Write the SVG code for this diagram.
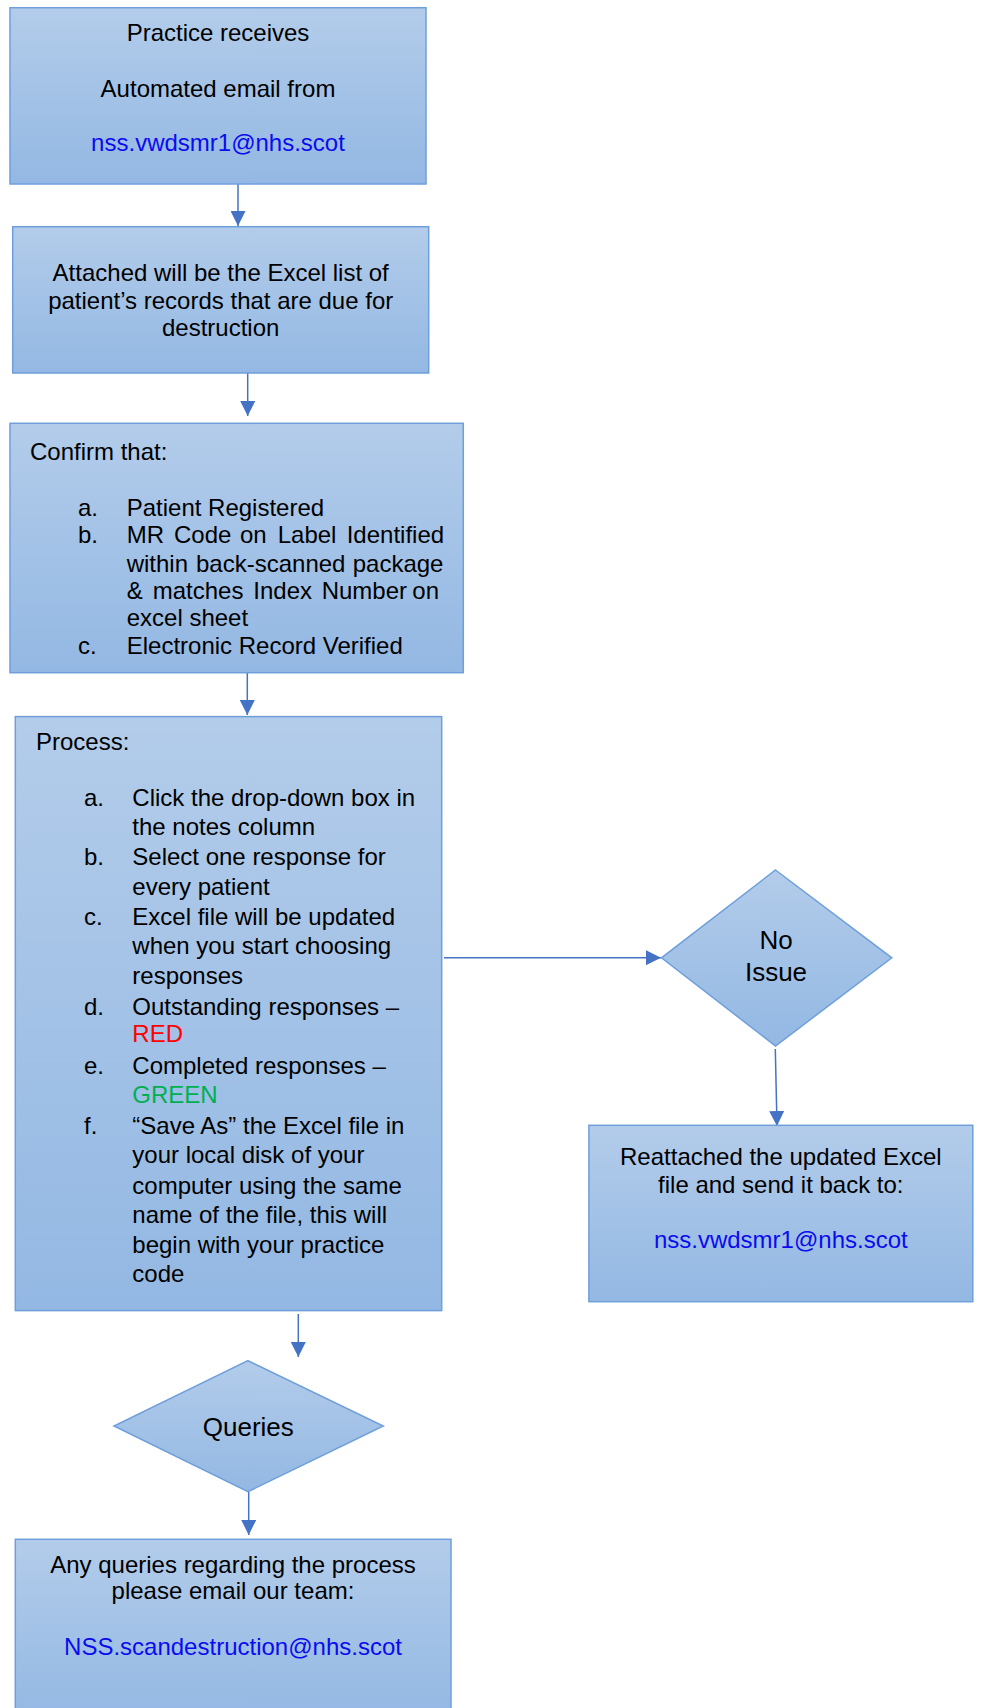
<svg xmlns="http://www.w3.org/2000/svg" width="981" height="1708" viewBox="0 0 981 1708">
<style>
.box{fill:url(#g);stroke:#6E9FDB;stroke-width:1.5}
.t{font-family:"Liberation Sans",Arial,sans-serif;font-size:24px;fill:#000}
.c{text-anchor:middle}
.em{fill:#0B0BF0}
.red{fill:#FF0000}
.grn{fill:#00B050}
.big{font-size:26px}
.arr{stroke:#4472C4;stroke-width:1.5;fill:none;marker-end:url(#ah)}
</style>
<defs>
<linearGradient id="g" x1="0" y1="0" x2="0" y2="1">
<stop offset="0" stop-color="#B3CCEA"/>
<stop offset="1" stop-color="#93B8E3"/>
</linearGradient>
<marker id="ah" markerUnits="userSpaceOnUse" markerWidth="15" markerHeight="15" refX="15" refY="7.5" orient="auto">
<path d="M0,0 L15,7.5 L0,15 z" fill="#4472C4"/>
</marker>
</defs>
<rect width="981" height="1708" fill="#fff"/>
<g id="connectors">
<line class="arr" x1="238" y1="184" x2="238" y2="226"/>
<line class="arr" x1="247.7" y1="373" x2="247.7" y2="416"/>
<line class="arr" x1="247.3" y1="673" x2="247.3" y2="715"/>
<line class="arr" x1="444" y1="957.7" x2="661" y2="957.7"/>
<line class="arr" x1="775.3" y1="1049" x2="777" y2="1126"/>
<line class="arr" x1="298.3" y1="1314" x2="298.3" y2="1357"/>
<line class="arr" x1="248.7" y1="1492" x2="248.7" y2="1535"/>
</g>
<g id="n1">
<rect class="box" x="10" y="7.7" width="416" height="176.3"/>
<text class="t c" x="218" y="41">Practice receives</text>
<text class="t c" x="218" y="97">Automated email from</text>
<text class="t c em" x="218" y="151">nss.vwdsmr1@nhs.scot</text>
</g>
<g id="n2">
<rect class="box" x="12.7" y="226.7" width="416" height="146.3"/>
<text class="t c" x="220.7" y="281">Attached will be the Excel list of</text>
<text class="t c" x="220.7" y="308.5">patient’s records that are due for</text>
<text class="t c" x="220.7" y="335.5">destruction</text>
</g>
<g id="n3">
<rect class="box" x="10" y="423.3" width="453.3" height="249.4"/>
<text class="t" x="30" y="460">Confirm that:</text>
<text class="t" x="78" y="516">a.</text>
<text class="t" x="126.7" y="516">Patient Registered</text>
<text class="t" x="78" y="543.3">b.</text>
<text class="t" y="543.3"><tspan x="126.7">MR</tspan><tspan x="174">Code</tspan><tspan x="240">on</tspan><tspan x="277.7">Label</tspan><tspan x="346.7">Identified</tspan></text>
<text class="t" y="571.7"><tspan x="126.7">within</tspan><tspan x="196">back-scanned</tspan><tspan x="352.7">package</tspan></text>
<text class="t" y="599"><tspan x="126.7">&amp;</tspan><tspan x="152.7">matches</tspan><tspan x="253.3">Index</tspan><tspan x="321.7">Number</tspan><tspan x="412.3">on</tspan></text>
<text class="t" x="126.7" y="626">excel sheet</text>
<text class="t" x="78" y="654">c.</text>
<text class="t" x="126.7" y="654">Electronic Record Verified</text>
</g>
<g id="n4">
<rect class="box" x="15.3" y="716.6" width="426.4" height="594"/>
<text class="t" x="36" y="750.2">Process:</text>
<text class="t" x="84" y="806">a.</text>
<text class="t" x="132.3" y="806">Click the drop-down box in</text>
<text class="t" x="132.3" y="835.2">the notes column</text>
<text class="t" x="84" y="865.3">b.</text>
<text class="t" x="132.3" y="865.3">Select one response for</text>
<text class="t" x="132.3" y="894.9">every patient</text>
<text class="t" x="84" y="924.6">c.</text>
<text class="t" x="132.3" y="924.6">Excel file will be updated</text>
<text class="t" x="132.3" y="954.2">when you start choosing</text>
<text class="t" x="132.3" y="983.9">responses</text>
<text class="t" x="84" y="1015.1">d.</text>
<text class="t" x="132.3" y="1015.1">Outstanding responses –</text>
<text class="t red" x="132.3" y="1042.4">RED</text>
<text class="t" x="84" y="1073.7">e.</text>
<text class="t" x="132.3" y="1073.7">Completed responses –</text>
<text class="t grn" x="132.3" y="1102.5">GREEN</text>
<text class="t" x="84" y="1133.8">f.</text>
<text class="t" x="132.3" y="1133.8">“Save As” the Excel file in</text>
<text class="t" x="132.3" y="1163.4">your local disk of your</text>
<text class="t" x="132.3" y="1193.5">computer using the same</text>
<text class="t" x="132.3" y="1222.7">name of the file, this will</text>
<text class="t" x="132.3" y="1252.8">begin with your practice</text>
<text class="t" x="132.3" y="1282">code</text>
</g>
<g id="n5">
<polygon class="box" points="775.5,870 891.8,957.8 775.5,1046 661.5,957.8"/>
<text class="t c big" x="776" y="949.3">No</text>
<text class="t c big" x="776" y="981">Issue</text>
</g>
<g id="n6">
<rect class="box" x="588.9" y="1125.3" width="383.9" height="176.4"/>
<text class="t c" x="780.8" y="1165">Reattached the updated Excel</text>
<text class="t c" x="780.8" y="1192.7">file and send it back to:</text>
<text class="t c em" x="780.8" y="1248.3">nss.vwdsmr1@nhs.scot</text>
</g>
<g id="n7">
<polygon class="box" points="248,1360.7 383.3,1426 248,1491.7 114,1426"/>
<text class="t c big" x="248.3" y="1435.7">Queries</text>
</g>
<g id="n8">
<rect class="box" x="15.3" y="1539.3" width="435.7" height="180"/>
<text class="t c" x="233" y="1572.7">Any queries regarding the process</text>
<text class="t c" x="233" y="1599">please email our team:</text>
<text class="t c em" x="233" y="1655">NSS.scandestruction@nhs.scot</text>
</g>
</svg>
